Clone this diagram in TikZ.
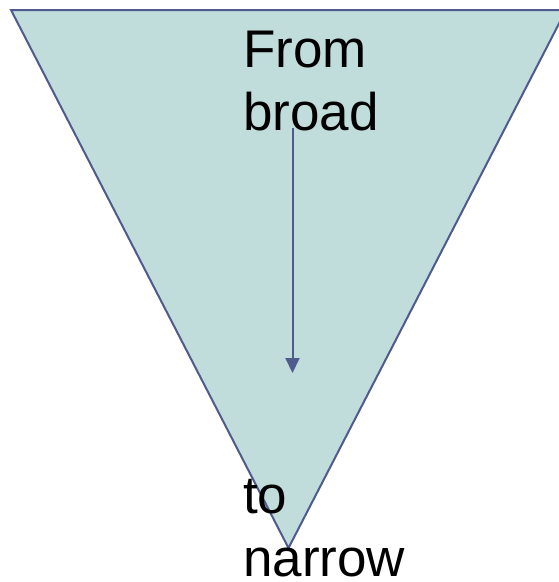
\documentclass[tikz,border=0pt]{standalone}
\usepackage{fontspec}
\setmainfont{Liberation Sans}
\usepackage{xcolor}
\usepackage{tikz}
\usetikzlibrary{arrows.meta,positioning,calc}

\definecolor{funnelfill}{HTML}{C0DCDB}
\definecolor{funnelline}{HTML}{4F5A8E}

\begin{document}
\begin{tikzpicture}[x=1pt,y=-1pt,
    label/.style={anchor=base west, inner sep=0pt, font=\fontsize{53}{63}\selectfont, align=left}]
\useasboundingbox (0,0) rectangle (559,582);
% funnel
\coordinate (tl) at (11,10);
\coordinate (tr) at (566,10);
\coordinate (tip) at (288.5,548);
\draw[funnelline, fill=funnelfill, line width=2pt, line join=miter] (tl) -- (tr) -- (tip) -- cycle;
% arrow
\coordinate (top) at (292.5,128);
\coordinate (bot) at (292.5,373);
\draw[funnelline, line width=2pt, -{Triangle[length=15pt,width=14pt]}] (top) -- (bot);
% texts (anchored on the last line's baseline)
\node[label] (broad) at (243,130) {From\\broad};
\node[label] (narrow) at (243,576) {to\\narrow};
\end{tikzpicture}
\end{document}
